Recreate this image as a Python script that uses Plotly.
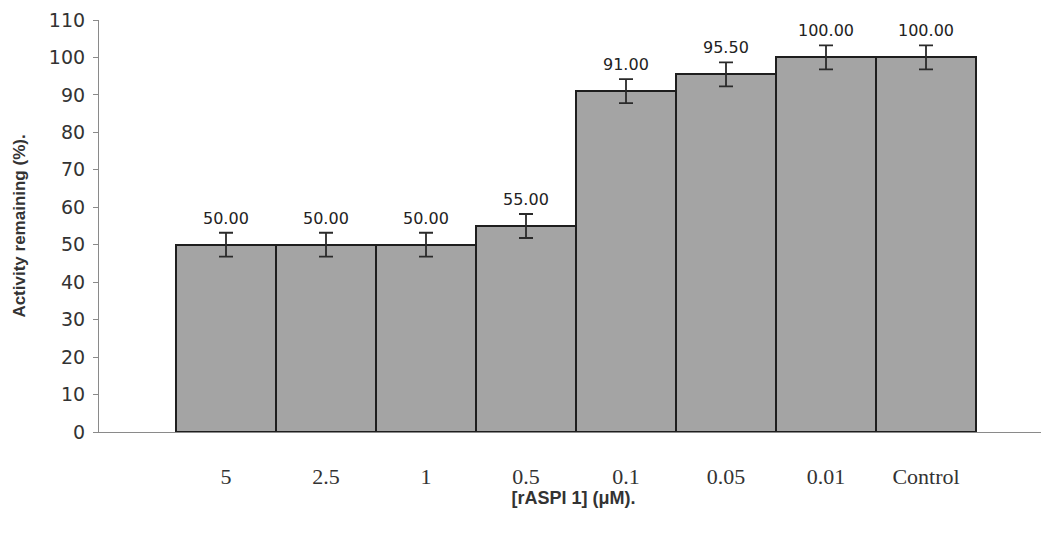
import plotly.graph_objects as go

categories = ["5", "2.5", "1", "0.5", "0.1", "0.05", "0.01", "Control"]
activity = [50.0, 50.0, 50.0, 55.0, 91.0, 95.5, 100.0, 100.0]
errors = [3.2, 3.2, 3.2, 3.2, 3.2, 3.2, 3.2, 3.2]
y_ticks = list(range(0, 111, 10))

xpos = list(range(len(categories)))

fig = go.Figure()
fig.add_trace(go.Bar(
    x=xpos, y=activity,
    marker=dict(color="#a4a4a4", line=dict(color="#1e1e1e", width=2)),
    error_y=dict(type="data", array=errors, visible=True, color="#2a2a2a",
                 thickness=1.8, width=7),
    width=1.0,
))

for x, v, e in zip(xpos, activity, errors):
    fig.add_annotation(x=x, y=v + e, text=f"{v:.2f}", showarrow=False,
                       yanchor="bottom", yshift=3,
                       font=dict(family="DejaVu Sans", size=16, color="#222"))

fig.update_layout(
    width=1049, height=536,
    margin=dict(l=91, r=9, t=12, b=112),
    plot_bgcolor="white", paper_bgcolor="white",
    showlegend=False, bargap=0,
    xaxis=dict(
        range=[-1.27, 8.22], tickvals=xpos, ticktext=categories,
        showline=True, linecolor="#8a8a8a", linewidth=1.2,
        showgrid=False, zeroline=False, ticks="", automargin=False,
        ticklabelstandoff=24,
        tickfont=dict(family="Liberation Serif, Times New Roman", size=22, color="#333"),
        title=dict(text="<b>[rASPI 1] (μM).</b>", standoff=2,
                   font=dict(family="Liberation Sans, Arial", size=18, color="#333")),
    ),
    yaxis=dict(
        range=[0, 110], tickvals=y_ticks,
        showline=True, linecolor="#8a8a8a", linewidth=1.2,
        showgrid=False, zeroline=False, automargin=False,
        ticks="outside", ticklen=5, tickcolor="#8a8a8a",
        ticklabelstandoff=4, ticklabeloverflow="allow",
        tickfont=dict(family="DejaVu Sans", size=19, color="#333"),
        title=dict(text="<b>Activity remaining (%).</b>", standoff=18,
                   font=dict(family="Liberation Sans, Arial", size=17, color="#333")),
    ),
)

fig.write_html("out.html")
